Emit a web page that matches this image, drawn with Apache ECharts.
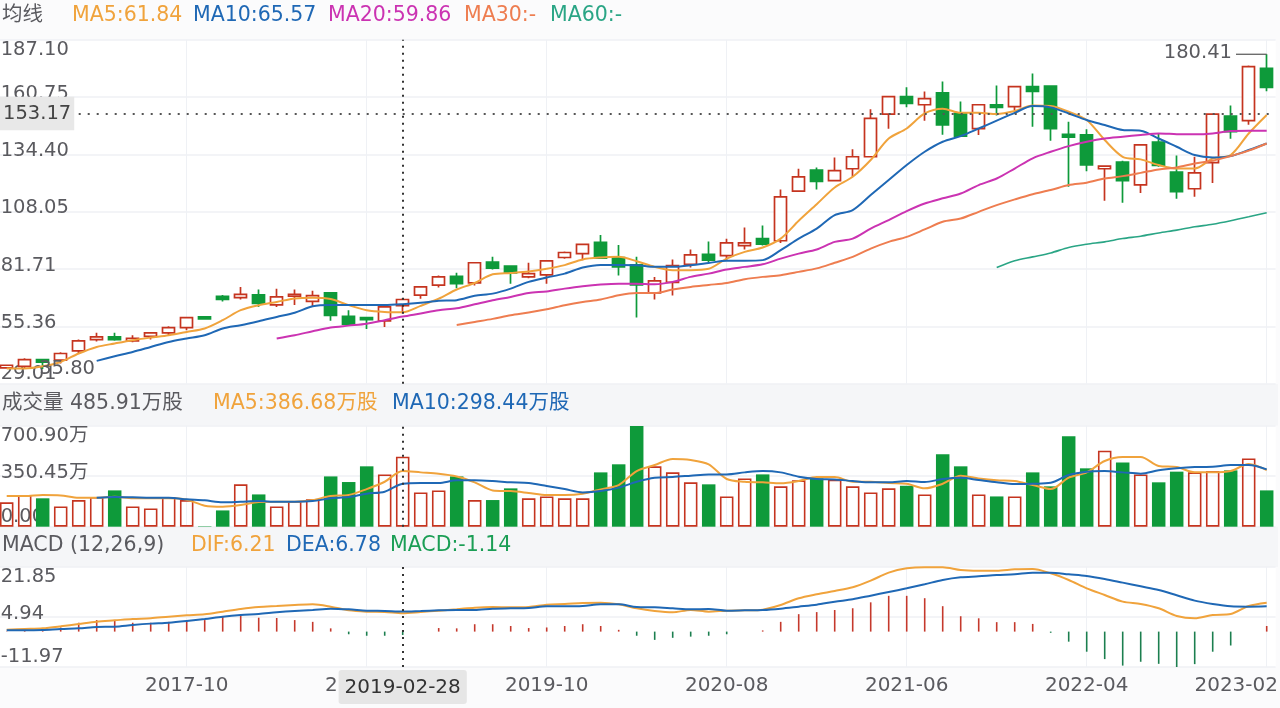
<!DOCTYPE html>
<html>
<head>
<meta charset="utf-8">
<title>K线</title>
<script src="https://cdn.jsdelivr.net/npm/echarts@6/dist/echarts.min.js"></script>
<style>
	html, body { margin: 0; padding: 0; background: #fff; }
	#myChart { width: 1280px; height: 708px; }
</style>
</head>
<body>
<div id="myChart"></div>
<script>
var dates = ['2016-12-30','2017-01-26','2017-02-28','2017-03-31','2017-04-28','2017-05-31','2017-06-30','2017-07-31','2017-08-31','2017-09-29',
	'2017-10-31','2017-11-30','2017-12-29','2018-01-31','2018-02-28','2018-03-30','2018-08-31','2018-09-28','2018-10-31','2018-11-30',
	'2018-12-28','2019-01-31','2019-02-28','2019-03-29','2019-04-30','2019-05-31','2019-06-28','2019-07-31','2019-08-30','2019-09-30',
	'2019-10-31','2019-11-29','2019-12-31','2020-01-23','2020-02-28','2020-03-31','2020-04-30','2020-05-29','2020-06-30','2020-07-31',
	'2020-08-31','2020-09-30','2020-10-30','2020-11-30','2020-12-31','2021-01-29','2021-02-26','2021-03-31','2021-04-30','2021-05-31',
	'2021-06-30','2021-07-30','2021-08-31','2021-09-30','2021-10-29','2021-11-30','2021-12-31','2022-01-28','2022-02-28','2022-03-31',
	'2022-04-29','2022-05-31','2022-06-30','2022-07-29','2022-08-31','2022-09-30','2022-10-31','2022-11-30','2022-12-30','2023-01-31','2023-02-28'];

// K线
var opens = [36.3,37.0,40.1,39.8,44.1,49.3,50.5,48.7,50.8,52.4,
	54.8,59.7,69.2,68.6,69.8,65.2,69.2,66.8,70.8,60.0,
	59.4,57.9,64.9,69.7,74.3,78.4,75.3,84.9,83.0,78.1,
	79.0,87.0,88.8,94.0,87.0,83.6,70.7,75.6,83.9,88.5,
	87.9,92.5,95.7,94.7,117.5,127.2,122.3,127.8,133.3,152.9,
	160.9,157.2,162.7,153.2,146.2,157.2,156.3,165.5,165.8,143.6,
	143.4,127.8,130.9,120.4,140.0,126.3,118.6,130.6,152.0,149.9,173.9];
var closes = [37.5,40.1,38.9,42.9,48.7,50.5,49.3,49.8,52.4,54.8,
	59.4,58.8,67.7,70.1,65.9,68.9,70.1,69.5,60.4,56.4,
	58.5,64.3,67.7,73.5,78.1,75.0,84.6,82.1,79.9,79.6,
	85.5,89.3,93.0,86.7,82.7,74.4,76.3,83.3,88.2,85.8,
	93.7,93.7,93.1,114.9,124.1,122.0,126.9,133.3,150.9,160.9,
	157.8,160.0,147.9,142.8,157.2,156.0,165.5,163.3,146.2,142.3,
	129.6,129.0,122.3,138.8,129.3,117.3,125.9,152.9,144.8,174.7,165.2];
var highs = [37.8,40.7,40.4,43.5,49.3,52.4,52.4,51.3,52.7,55.4,
	59.7,59.7,69.8,73.5,72.3,72.6,72.3,71.7,71.1,62.8,
	59.7,64.9,68.3,73.8,78.7,80.0,84.9,87.3,83.5,84.6,
	85.8,89.8,93.4,97.4,92.7,87.3,78.1,86.1,90.7,94.4,
	95.6,100.8,101.7,118.3,127.8,128.4,133.0,136.7,155.1,161.2,
	165.2,163.3,167.9,158.7,157.5,166.1,165.8,171.6,166.1,149.4,
	145.9,129.3,131.5,139.1,144.0,133.9,133.3,153.2,156.9,175.3,180.41];
var lows = [35.9,36.1,35.8,38.3,42.9,48.4,48.7,48.1,49.3,51.4,
	53.6,58.5,66.8,67.7,64.3,64.3,65.2,64.6,57.9,55.7,
	54.2,55.1,61.3,68.0,73.2,72.9,74.1,81.5,75.0,77.5,
	75.0,86.4,85.8,86.4,78.7,59.4,67.7,69.5,82.4,84.9,
	85.8,90.7,92.5,93.7,117.2,118.3,122.0,124.1,133.0,146.2,
	156.0,149.9,143.4,142.5,143.3,152.3,154.8,147.1,140.7,119.5,
	126.6,113.1,112.2,116.7,128.7,114.0,114.9,121.3,141.6,148.0,163.4];

// 均线
var ma5 = [36.0,36.0,37.0,39.0,42.9,45.9,47.5,49.0,50.2,51.3,
	52.8,54.4,58.2,62.8,65.1,66.6,68.2,68.5,67.9,65.1,
	62.8,62.0,61.84,64.8,68.1,72.3,75.3,79.3,79.9,80.6,
	81.8,83.5,86.1,87.0,87.3,85.3,82.7,81.2,81.2,81.8,
	86.5,89.6,91.6,95.7,103.9,111.5,119.2,124.1,131.8,141.7,
	146.3,153.2,155.4,153.5,153.5,152.9,154.3,156.9,156.6,154.0,
	150.2,141.0,133.3,132.1,129.5,127.9,127.9,132.5,134.1,144.0,152.5];
var ma10 = [null,null,null,null,null,39.5,41.6,43.6,45.9,48.2,
	49.8,51.3,54.4,55.9,57.7,59.7,61.6,64.6,65.2,65.2,
	65.2,65.2,65.57,66.2,67.1,67.4,69.4,70.4,72.7,75.8,
	77.8,79.6,82.4,83.6,83.6,83.5,82.7,82.7,83.5,84.5,
	85.5,85.5,85.8,90.4,95.7,100.3,106.5,108.8,115.7,122.6,
	129.5,135.6,140.2,142.8,146.3,149.9,153.5,156.6,156.0,153.2,
	150.2,147.9,145.6,145.3,141.7,137.9,134.1,133.0,133.6,136.4,139.4];
var ma20 = [null,null,null,null,null,null,null,null,null,null,
	null,null,null,null,null,49.8,51.3,53.1,54.8,55.7,
	56.6,58.2,59.86,61.3,62.8,63.7,65.5,67.4,68.9,70.7,
	71.4,72.7,73.8,74.6,75.0,75.0,74.7,75.8,78.1,79.6,
	81.5,82.7,83.9,86.5,88.8,90.7,94.2,95.7,100.3,104.2,
	108.3,111.8,114.2,116.4,120.3,123.3,127.9,132.6,135.6,138.2,
	140.2,141.7,142.5,143.3,144.0,143.7,143.6,144.0,145.1,145.3,145.3];
var ma30 = [null,null,null,null,null,null,null,null,null,null,
	null,null,null,null,null,null,null,null,null,null,
	null,null,null,null,null,56.0,57.4,58.8,60.5,61.7,
	63.2,65.1,66.6,67.7,69.7,70.7,70.7,72.3,73.5,74.4,
	75.3,77.0,78.1,78.9,80.4,82.0,84.6,87.3,91.1,94.2,
	96.5,99.9,103.4,104.9,108.0,111.1,113.7,116.1,118.0,120.3,
	121.4,123.3,124.4,125.9,127.5,128.4,130.2,131.5,133.6,136.1,139.4];
var ma60 = [null,null,null,null,null,null,null,null,null,null,
	null,null,null,null,null,null,null,null,null,null,
	null,null,null,null,null,null,null,null,null,null,
	null,null,null,null,null,null,null,null,null,null,
	null,null,null,null,null,null,null,null,null,null,
	null,null,null,null,null,82.4,85.5,87.3,89.1,91.6,
	93.1,94.2,95.7,96.8,98.3,99.6,101.1,102.3,103.9,105.7,107.6];

// 成交量(万股)
var volumes = [169,220,197,141,185,206,252,141,127,206,
	185,3,113,294,224,141,178,190,349,310,
	419,363,485.91,238,252,349,185,185,266,197,
	210,197,197,377,433,699,419,377,308,294,
	210,335,363,280,322,335,326,280,238,266,
	284,224,502,419,224,210,210,377,280,627,
	405,527,446,363,308,382,377,386,391,474,252];
var volMa5 = [213,213,220,217,201,201,208,197,197,197,
	187,146,139,150,171,173,173,185,213,220,
	261,312,386.68,377,368,349,308,252,247,234,
	220,220,229,259,289,386,428,470,463,433,
	331,312,308,301,317,345,345,312,312,303,
	298,266,298,354,335,322,317,289,261,340,
	377,456,483,483,421,414,377,377,386,435,393];
var volMa10 = [null,null,null,null,null,201,206,204,201,201,
	190,183,169,173,178,173,173,178,197,206,
	229,243,298.44,303,303,322,322,317,308,303,
	282,261,238,247,271,312,340,345,354,363,
	363,377,386,377,347,331,328,317,308,308,
	317,310,331,340,324,308,296,298,305,359,
	382,386,377,368,391,405,414,416,428,428,398];

// MACD
var dif = [0.66,0.89,1.12,1.79,2.58,3.37,3.82,4.27,4.5,5.06,
	5.51,5.85,6.75,7.65,8.33,8.67,9.0,9.23,8.44,7.2,
	6.75,6.64,6.21,6.64,7.09,7.54,8.1,8.33,8.22,8.33,
	9.12,9.34,9.68,9.79,9.23,7.88,6.98,6.53,7.32,6.75,
	7.09,7.2,7.43,9.0,11.26,12.61,13.74,14.98,17.23,19.94,
	21.4,21.8,21.8,20.84,20.61,20.61,21.07,21.18,19.71,17.46,
	14.64,12.39,10.13,9.34,7.88,5.29,4.5,5.62,5.96,8.67,9.79];
var dea = [0.44,0.44,0.55,0.89,1.12,1.57,1.68,2.24,2.7,3.03,
	3.6,4.27,5.06,5.62,5.96,6.53,6.98,7.32,7.77,7.54,
	7.09,6.98,6.78,6.98,7.2,7.32,7.32,7.77,7.88,8.0,
	8.56,8.56,8.67,9.23,9.23,8.33,8.22,7.88,7.54,7.65,
	7.09,7.2,7.32,7.77,8.44,9.12,10.13,10.92,12.16,13.4,
	14.64,16.0,17.46,18.36,18.7,19.15,19.37,19.94,19.94,19.37,
	18.81,17.8,16.56,15.32,14.08,12.27,10.47,9.34,8.56,8.44,8.56];
var macd = [0.1,0.3,0.4,1.4,3.0,3.9,3.9,3.0,3.0,3.3,
	3.7,3.9,5.1,5.5,4.7,4.6,3.9,3.3,1.1,-0.9,
	-1.4,-1.4,-1.14,0,1.2,1.1,2.5,2.5,1.9,1.2,
	1.4,1.9,2.5,1.9,0.6,-1.4,-2.8,-2.1,-1.7,-1.4,
	-0.9,0,0.4,3.3,5.9,6.6,7.3,7.9,9.9,12.1,
	12.1,11.3,8.6,5.2,4.5,3.2,3.2,2.6,-0.4,-3.4,
	-6.8,-9.3,-11.5,-10.2,-10.9,-12.2,-11,-6.8,-4.7,0,1.9];

var priceTicks = [29.01,55.36,81.71,108.05,134.40,160.75,187.10];
var volTicks = [0,350.45,700.90];
var macdTicks = [-11.97,4.94,21.85];

var cursorDate = '2019-02-28';
var cursorPrice = 153.17;
var highMark = 180.41;
var lowMark = 35.80;

var RED = '#c5341f', GREEN = '#0e9a3a';
var C_MA5 = '#f0a33c', C_MA10 = '#1f68b5', C_MA20 = '#cb33b2', C_MA30 = '#ee7d50', C_MA60 = '#2aa585';
var TEXT = '#5a5a5f';
var FONT = '"DejaVu Sans","Noto Sans CJK SC",sans-serif';

var candleData = [];
var volData = [];
var macdData = [];
for (var i = 0; i < dates.length; i++) {
	candleData.push([opens[i], closes[i], lows[i], highs[i]]);
	var up = closes[i] > opens[i];
	volData.push({
		value: volumes[i],
		itemStyle: up ? { color: 'rgba(255,255,255,0)', borderColor: RED, borderWidth: 1.6 } : { color: GREEN, borderColor: GREEN, borderWidth: 0 }
	});
	macdData.push({
		value: macd[i],
		itemStyle: { color: macd[i] >= 0 ? '#c5392c' : '#1c7f4f' }
	});
}

function lineSeries(name, data, color, xIdx, yIdx, width) {
	return {
		name: name,
		type: 'line',
		xAxisIndex: xIdx,
		yAxisIndex: yIdx,
		data: data,
		smooth: 0.3,
		showSymbol: false,
		silent: true,
		lineStyle: { color: color, width: width || 2 }
	};
}

function xAxisOf(gridIdx, withLabel) {
	return {
		type: 'category',
		gridIndex: gridIdx,
		data: dates,
		boundaryGap: true,
		axisLine: { show: false },
		axisTick: { show: false, alignWithLabel: true, interval: function(i) { return i % 10 === 0; } },
		splitLine: {
			show: true,
			alignWithLabel: true,
			interval: function(i) { return i > 0 && i % 10 === 0; },
			lineStyle: { color: '#eff1f5', width: 1 }
		},
		axisLabel: {
			show: withLabel,
			interval: function(i) { return i > 0 && i % 10 === 0 && i < dates.length - 1; },
			formatter: function(v) { return v.slice(0, 7); },
			color: TEXT,
			fontFamily: FONT,
			fontSize: 20,
			margin: 9
		},
		axisPointer: {
			show: true,
			status: 'show',
			value: cursorDate,
			type: 'line',
			triggerTooltip: false,
			lineStyle: { color: '#333', width: 2, type: [2, 5] },
			label: {
				show: withLabel,
				color: '#333',
				fontFamily: FONT,
				fontSize: 20,
				backgroundColor: '#e6e6e6',
				padding: [8, 6, 6, 6],
				margin: 3,
				shadowBlur: 0,
				formatter: function(p) { return cursorDate; }
			}
		}
	};
}

function yAxisOf(gridIdx, ticks, fmt) {
	return {
		type: 'value',
		gridIndex: gridIdx,
		min: ticks[0],
		max: ticks[ticks.length - 1],
		position: 'left',
		axisLine: { show: false },
		axisTick: { show: false, customValues: ticks },
		splitLine: { show: true, lineStyle: { color: '#eff1f5', width: 1.5 } },
		axisLabel: {
			inside: true,
			margin: 3,
			customValues: ticks,
			// 中间的刻度文字略高于网格线
			formatter: function(v) {
				var s = fmt(v);
				if (v === ticks[0] || v === ticks[ticks.length - 1]) {
					return s;
				}
				return '{m|' + s + '}';
			},
			rich: { m: { padding: [0, 0, 7, 0], fontFamily: FONT, fontSize: 19.5, color: TEXT } },
			color: TEXT,
			fontFamily: FONT,
			fontSize: 19.5,
			align: 'left',
			verticalAlign: 'middle',
			verticalAlignMinLabel: 'bottom',
			verticalAlignMaxLabel: 'top'
		}
	};
}

var myChart = echarts.init(document.getElementById('myChart'));
var option = {
	backgroundColor: '#fbfbfc',
	animation: false,
	grid: [
		{ left: -2.3, width: 1278, top: 39.7, height: 344, show: true, backgroundColor: '#fff', borderWidth: 0, outerBoundsMode: 'none' },
		{ left: -2.3, width: 1278, top: 425.7, height: 101, show: true, backgroundColor: '#fff', borderWidth: 0, outerBoundsMode: 'none' },
		{ left: -2.3, width: 1278, top: 567, height: 100, show: true, backgroundColor: '#fff', borderWidth: 0, outerBoundsMode: 'none' }
	],
	xAxis: [xAxisOf(0, false), xAxisOf(1, false), xAxisOf(2, true)],
	yAxis: [
		yAxisOf(0, priceTicks, function(v) { return v.toFixed(2); }),
		yAxisOf(1, volTicks, function(v) { return v === 0 ? '0.00' : v.toFixed(2) + '万'; }),
		yAxisOf(2, macdTicks, function(v) { return v.toFixed(2); })
	],
	series: [
		{
			name: 'K线',
			type: 'candlestick',
			xAxisIndex: 0,
			yAxisIndex: 0,
			data: candleData,
			barWidth: 13,
			silent: true,
			itemStyle: { color: '#fff', color0: GREEN, borderColor: RED, borderColor0: GREEN, borderWidth: 1.7 },
			markLine: {
				silent: true,
				symbol: 'none',
				label: { show: false },
				lineStyle: { color: '#555', width: 2, type: [2, 7] },
				data: [{ yAxis: cursorPrice }]
			}
		},
		lineSeries('MA5', ma5, C_MA5, 0, 0),
		lineSeries('MA10', ma10, C_MA10, 0, 0),
		lineSeries('MA20', ma20, C_MA20, 0, 0),
		lineSeries('MA30', ma30, C_MA30, 0, 0),
		lineSeries('MA60', ma60, C_MA60, 0, 0, 1.6),
		{
			name: '成交量',
			type: 'bar',
			xAxisIndex: 1,
			yAxisIndex: 1,
			data: volData,
			barWidth: 13.5,
			silent: true
		},
		lineSeries('VOL5', volMa5, C_MA5, 1, 1),
		lineSeries('VOL10', volMa10, C_MA10, 1, 1),
		{
			name: 'MACD',
			type: 'bar',
			xAxisIndex: 2,
			yAxisIndex: 2,
			data: macdData,
			barWidth: 1.6,
			silent: true
		},
		lineSeries('DIF', dif, C_MA5, 2, 2),
		lineSeries('DEA', dea, C_MA10, 2, 2)
	]
};
myChart.setOption(option);

function legendText(x, y, text, color) {
	return {
		type: 'text',
		x: x,
		y: y,
		z: 50,
		silent: true,
		style: { text: text, fill: color, font: '20.5px ' + FONT, verticalAlign: 'middle' }
	};
}

var highY = myChart.convertToPixel({ yAxisIndex: 0 }, highMark);
var lowY = myChart.convertToPixel({ yAxisIndex: 0 }, lowMark);
var cursorY = myChart.convertToPixel({ yAxisIndex: 0 }, cursorPrice);
var lastX = myChart.convertToPixel({ xAxisIndex: 0 }, dates.length - 1);

myChart.setOption({
	graphic: [
		{ type: 'rect', silent: true, z: -1, zlevel: 0, shape: { x: 0, y: 384, width: 1278, height: 41.5 }, style: { fill: '#f5f6f8' } },
		{ type: 'rect', silent: true, z: -1, zlevel: 0, shape: { x: 0, y: 526.7, width: 1278, height: 40.3 }, style: { fill: '#f5f6f8' } },
		legendText(2, 16, '均线', TEXT),
		legendText(72, 16, 'MA5:' + ma5[22].toFixed(2), C_MA5),
		legendText(193, 16, 'MA10:' + ma10[22].toFixed(2), C_MA10),
		legendText(328, 16, 'MA20:' + ma20[22].toFixed(2), C_MA20),
		legendText(464, 16, 'MA30:-', C_MA30),
		legendText(550, 16, 'MA60:-', C_MA60),
		legendText(2, 404, '成交量 ' + volumes[22].toFixed(2) + '万股', TEXT),
		legendText(213, 404, 'MA5:' + volMa5[22].toFixed(2) + '万股', C_MA5),
		legendText(392, 404, 'MA10:' + volMa10[22].toFixed(2) + '万股', C_MA10),
		legendText(2, 546, 'MACD (12,26,9)', TEXT),
		legendText(191, 546, 'DIF:' + dif[22].toFixed(2), C_MA5),
		legendText(286, 546, 'DEA:' + dea[22].toFixed(2), C_MA10),
		legendText(390, 546, 'MACD:' + macd[22].toFixed(2), '#1b9e55'),
		// 十字光标价格
		{
			type: 'text', x: 0, y: cursorY, z: 60, silent: true,
			style: { text: cursorPrice.toFixed(2), fill: '#444', font: '19.5px ' + FONT, verticalAlign: 'middle', backgroundColor: '#e8e8e8', padding: [8, 3, 6, 3] }
		},
		// 最高 最低
		{
			type: 'polyline', silent: true, z: 40,
			shape: { points: [[lastX, highY], [1236, highY]] },
			style: { stroke: '#555', lineWidth: 1.2, fill: null }
		},
		{
			type: 'text', x: 1232, y: highY - 1, z: 40, silent: true,
			style: { text: highMark.toFixed(2), fill: TEXT, font: '19.5px ' + FONT, align: 'right', verticalAlign: 'middle' }
		},
		{
			type: 'text', x: 95, y: lowY, z: 40, silent: true,
			style: { text: lowMark.toFixed(2), fill: TEXT, font: '19.5px ' + FONT, align: 'right', verticalAlign: 'middle' }
		},
		// 最后一个日期贴右边
		{
			type: 'text', x: 1278, y: 686, z: 40, silent: true,
			style: { text: dates[dates.length - 1].slice(0, 7), fill: TEXT, font: '20px ' + FONT, align: 'right', verticalAlign: 'middle' }
		}
	]
});
</script>
</body>
</html>
